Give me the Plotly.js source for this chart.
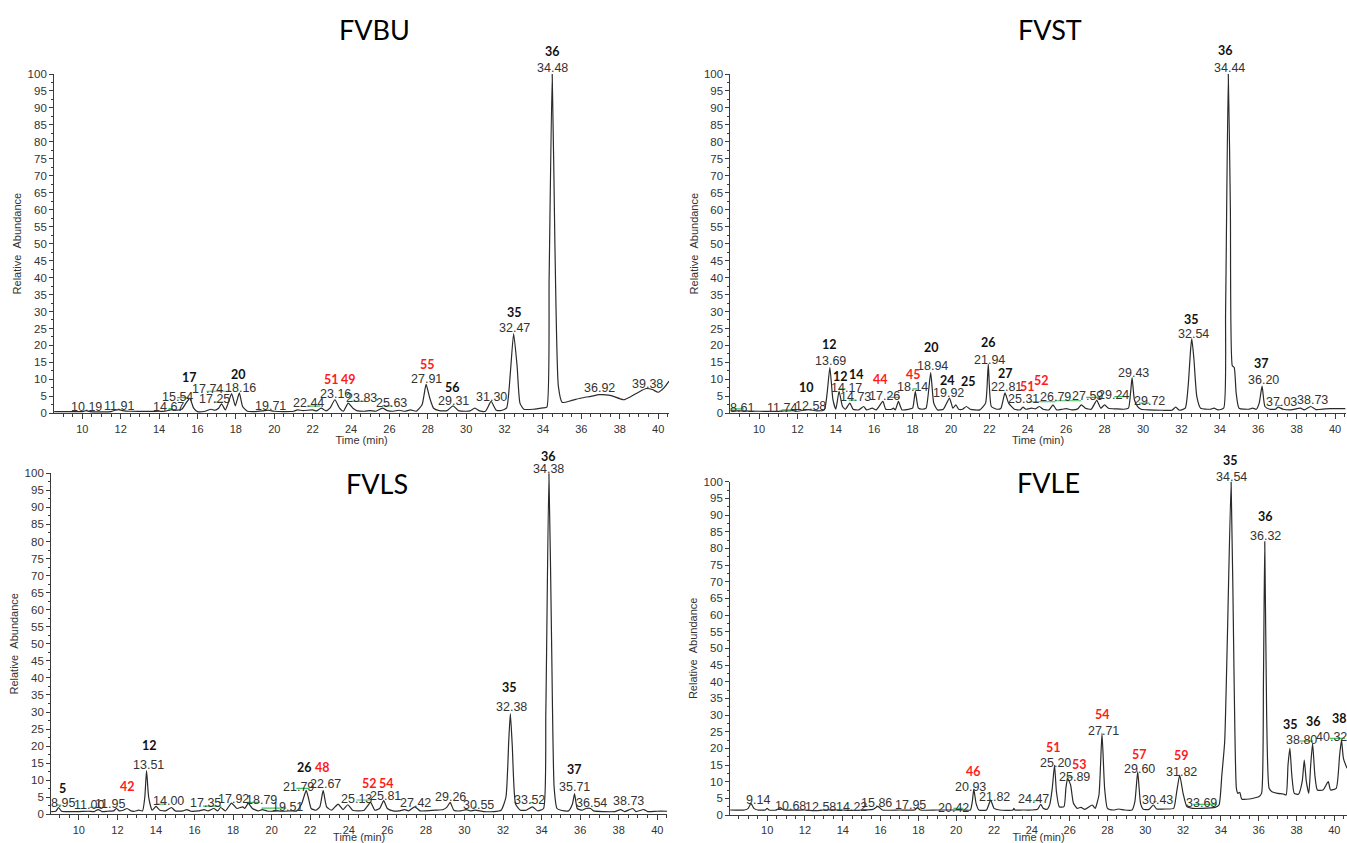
<!DOCTYPE html>
<html>
<head>
<meta charset="utf-8">
<script src="https://cdn.plot.ly/plotly-3.0.1.min.js"></script>
<style>html,body{margin:0;padding:0;background:#fff}#chart{width:1347px;height:843px}</style>
</head>
<body>
<div id="chart"></div>
<script>
// ===================== DATA =====================
// FVBU chromatogram (time in min, relative abundance in %)
const fvbuTime = [8.53,9.5,10.0,10.19,10.4,11.5,11.7,11.91,12.1,12.5,
  14.0,14.3,14.67,14.9,15.2,15.4,15.6,15.8,16.0,16.4,
  16.7,16.9,17.1,17.25,17.45,17.6,17.78,17.97,18.18,18.35,
  18.6,19.0,19.4,19.71,20.0,20.5,21.0,21.2,21.5,22.0,
  22.2,22.44,22.7,22.9,23.16,23.4,23.6,23.85,24.1,24.3,
  24.7,25.0,25.3,25.63,25.9,26.2,26.5,26.8,27.1,27.4,
  27.7,27.91,28.1,28.3,28.6,29.0,29.31,29.6,30.0,30.2,
  30.45,30.7,31.0,31.3,31.55,31.8,32.1,32.3,32.47,32.65,
  32.8,33.0,33.5,34.0,34.2,34.32,34.48,34.62,34.8,35.0,
  35.5,36.0,36.5,36.92,37.5,38.2,38.6,39.0,39.38,39.7,
  40.0,40.3,40.57];
const fvbuAbundance = [0.5,0.5,0.5,0.8,0.5,0.5,0.9,1.1,0.8,0.6,
  0.6,0.6,1.1,0.9,1.3,3.0,4.4,1.5,0.5,0.6,
  1.2,0.9,1.5,2.8,1.0,3.0,5.8,2.2,6.0,2.0,
  0.6,0.5,0.7,0.9,0.6,0.5,0.6,1.0,0.8,1.0,
  0.7,1.5,0.7,1.5,4.0,1.5,0.6,3.0,1.5,0.8,
  0.6,0.8,0.6,1.5,0.8,0.6,0.9,0.6,1.0,0.6,
  2.5,8.5,4.5,1.5,0.8,0.8,2.2,0.8,0.6,0.7,
  1.5,0.7,0.6,3.5,1.0,0.8,1.5,12.0,23.5,14.0,
  3.0,1.2,1.2,1.6,1.8,40,100,50,8,3.2,
  3.8,4.5,5.0,5.5,5.3,4.0,5.0,6.3,7.3,7.0,
  6.2,7.5,9.5];
const fvbuRtLabels = ['10.19','11.91','14.67','15.54','17.74','17.25','18.16','19.71','22.44','23.16','23.83','25.63','27.91','29.31','31.30','32.47','34.48','36.92','39.38'];
const fvbuCompounds = ['17','20','51','49','55','56','35','36'];
const fvbuCompoundIsNew = [false,false,true,true,true,false,false,false];

// FVST chromatogram
const fvstTime = [8.51,9.0,10.0,11.0,11.74,12.0,12.58,13.0,13.4,13.55,
  13.69,13.85,14.0,14.17,14.35,14.5,14.73,14.9,15.2,15.45,
  15.6,15.9,16.1,16.45,16.6,16.9,17.0,17.1,17.26,17.45,
  17.8,18.0,18.14,18.3,18.5,18.7,18.94,19.1,19.3,19.6,
  19.92,20.1,20.25,20.4,20.6,20.8,21.0,21.5,21.8,21.94,
  22.1,22.4,22.6,22.81,23.0,23.3,23.6,23.75,23.9,24.2,
  24.4,24.6,24.8,25.1,25.31,25.5,25.8,26.0,26.3,26.6,
  26.79,27.0,27.3,27.59,27.8,28.0,28.2,28.6,29.0,29.24,
  29.35,29.43,29.55,29.72,29.9,30.3,31.0,31.5,31.7,31.9,
  32.2,32.35,32.48,32.54,32.65,32.8,33.0,33.5,33.7,33.9,
  34.2,34.3,34.44,34.55,34.65,34.75,34.85,35.0,35.5,35.7,
  35.9,36.05,36.2,36.35,36.6,36.9,37.03,37.3,37.7,38.2,
  38.4,38.73,39.0,39.5,40.0,40.55];
const fvstAbundance = [0.7,0.7,0.6,0.6,0.8,0.6,1.1,0.7,1.0,6.0,
  13.5,4.0,1.2,6.5,2.0,1.2,3.0,1.2,1.0,2.0,
  1.0,1.5,1.0,3.5,1.2,1.2,1.5,1.0,3.5,1.0,
  1.2,1.5,6.5,1.5,1.2,1.5,12.0,3.0,1.0,1.2,
  4.5,1.5,2.5,1.2,1.2,2.0,1.2,1.0,3.0,14.5,
  2.0,1.2,1.5,6.0,3.0,1.2,1.0,1.8,1.2,1.5,
  1.3,2.0,1.2,1.0,2.5,1.0,1.2,1.4,1.0,1.3,
  2.5,1.5,1.2,3.8,1.5,2.5,1.5,1.3,1.2,1.5,
  6.0,10.5,4.0,2.0,1.2,1.0,0.9,0.9,1.8,0.9,
  1.5,8.0,19.0,22.0,16.0,5.0,1.5,1.2,1.5,1.0,
  1.5,30,100,60,14,13.5,6.0,1.5,1.2,1.5,
  1.2,3.0,8.0,2.0,1.2,1.2,1.8,1.2,1.0,1.5,
  1.0,2.0,1.1,1.3,1.4,1.4];
const fvstRtLabels = ['8.61','11.74','12.58','13.69','14.17','14.73','17.26','18.14','18.94','19.92','21.94','22.81','25.31','26.79','27.59','29.24','29.43','29.72','32.54','34.44','36.20','37.03','38.73'];
const fvstCompounds = ['10','12','12','14','44','45','20','24','25','26','27','51','52','35','36','37'];
const fvstCompoundIsNew = [false,false,false,false,true,true,false,false,false,false,false,true,true,false,false,false];

// FVLS chromatogram
const fvlsTime = [8.56,8.8,8.95,9.1,9.5,10.0,10.5,10.8,11.0,11.2,
  11.5,11.8,11.95,12.1,12.3,12.5,12.7,12.9,13.1,13.3,
  13.42,13.51,13.62,13.8,14.0,14.2,14.5,14.8,15.0,15.4,
  15.6,15.8,16.2,16.5,16.7,17.0,17.2,17.35,17.6,17.92,
  18.2,18.5,18.6,18.79,19.0,19.3,19.51,19.8,20.3,20.6,
  21.0,21.3,21.55,21.79,21.9,22.05,22.3,22.5,22.67,22.85,
  23.1,23.45,23.7,23.95,24.2,24.5,24.8,25.13,25.35,25.6,
  25.81,26.0,26.3,26.6,26.9,27.1,27.42,27.7,28.0,28.5,
  28.9,29.1,29.26,29.45,29.8,30.1,30.3,30.55,31.0,31.5,
  31.9,32.15,32.3,32.38,32.48,32.65,32.9,33.2,33.52,33.8,
  34.1,34.22,34.38,34.52,34.65,34.8,35.0,35.4,35.6,35.71,
  35.85,36.1,36.3,36.54,36.7,37.2,37.8,38.1,38.3,38.73,
  38.9,39.3,39.5,40.0,40.52];
const fvlsAbundance = [0.8,0.9,2.0,0.9,0.8,0.8,0.9,0.8,1.4,0.8,
  0.9,1.0,1.7,1.0,1.2,1.7,1.0,0.9,1.2,1.0,
  5.0,12.8,5.0,1.2,2.3,1.2,1.0,2.0,1.0,1.0,
  1.4,0.9,1.0,1.4,1.0,1.7,1.0,2.0,1.0,3.3,
  1.7,2.2,1.7,3.2,1.7,1.0,1.4,0.9,1.0,0.9,
  1.0,1.0,3.0,7.0,5.0,1.7,1.2,2.2,7.0,2.2,
  1.2,3.0,1.4,2.8,1.2,1.0,1.2,3.5,1.2,1.7,
  4.0,1.7,1.0,1.0,1.4,1.0,2.2,1.0,1.0,1.2,
  1.4,2.2,3.5,1.2,1.0,1.4,1.0,1.2,0.8,0.8,
  1.2,5.0,22.0,29.5,20.0,3.0,1.2,1.2,2.2,1.0,
  1.7,30,100,50,8.0,1.7,1.2,1.0,3.0,6.0,
  1.7,1.2,1.7,1.7,1.0,0.8,0.8,1.4,0.8,1.7,
  0.8,1.4,0.8,0.9,0.9];
const fvlsRtLabels = ['8.95','11.00','11.95','13.51','14.00','17.35','17.92','18.79','19.51','21.79','22.67','25.13','25.81','27.42','29.26','30.55','32.38','33.52','34.38','35.71','36.54','38.73'];
const fvlsCompounds = ['5','42','12','26','48','52','54','35','36','37'];
const fvlsCompoundIsNew = [false,true,false,false,true,true,true,false,false,false];

// FVLE chromatogram
const fvleTime = [8.04,8.8,9.0,9.14,9.3,9.5,9.9,10.0,10.1,10.5,
  10.68,10.9,12.0,12.58,13.0,14.0,14.22,15.0,15.6,15.86,
  16.1,17.0,17.8,17.95,18.1,19.0,20.0,20.42,20.75,20.85,
  20.93,21.05,21.2,21.6,21.82,22.0,22.3,23.0,23.05,23.1,
  23.5,24.0,24.3,24.47,24.6,24.8,24.95,25.08,25.2,25.3,
  25.45,25.7,25.8,25.89,26.05,26.2,26.4,26.6,26.8,27.2,
  27.35,27.55,27.71,27.85,28.0,28.3,28.6,28.9,29.3,29.45,
  29.6,29.75,29.9,30.2,30.43,30.6,31.0,31.5,31.65,31.82,
  32.0,32.2,32.5,33.0,33.69,33.9,34.05,34.2,34.35,34.54,
  34.7,34.82,34.9,35.0,35.1,35.5,36.0,36.15,36.25,36.32,
  36.42,36.55,36.7,37.0,37.3,37.45,37.55,37.65,37.75,37.88,
  38.1,38.3,38.41,38.52,38.65,38.75,38.85,38.97,39.1,39.4,
  39.68,39.8,40.1,40.28,40.38,40.48,40.67];
const fvleAbundance = [1.5,1.5,2.0,3.5,2.0,1.5,1.5,2.0,1.5,1.5,
  2.2,1.5,1.5,1.3,1.5,1.5,1.4,1.5,1.7,2.6,
  1.5,1.5,1.5,2.2,1.5,1.5,1.5,1.5,1.5,4.0,
  7.8,3.5,1.5,1.5,4.5,2.0,1.5,1.5,2.0,1.5,
  1.5,1.5,1.7,3.2,2.0,1.7,3.2,8.0,15.0,7.0,
  2.5,2.5,8.0,11.0,9.0,3.5,2.0,2.3,1.7,3.0,
  2.0,6.0,24.5,8.0,2.0,1.5,1.8,1.5,1.5,4.0,
  13.0,3.5,1.7,1.7,3.0,1.8,1.8,2.0,6.5,12.0,
  6.5,2.5,2.0,2.0,2.3,3.0,12.0,22.0,55,100,
  40,8.0,6.5,6.8,4.8,4.8,5.5,6.5,40,82,
  30,8.0,7.0,6.5,6.3,6.0,15,20,12,6.5,
  6.2,10,16.5,10,6.5,15,21.5,12,7.5,7.5,
  10,7.5,8.0,18,22.5,17,14];
const fvleRtLabels = ['9.14','10.68','12.58','14.22','15.86','17.95','20.42','20.93','21.82','24.47','25.20','25.89','27.71','29.60','30.43','31.82','33.69','34.54','36.32','38.80','40.32'];
const fvleCompounds = ['46','51','53','54','57','59','35','36','35','36','38'];
const fvleCompoundIsNew = [true,true,true,true,true,true,false,false,false,false,false];

// Integration baseline marks (start time, end time, level)
const fvbuBaselines = [[14.49,14.70,1.4],[14.94,15.55,4.6],[16.47,17.75,6.5],[16.85,17.34,3.3],[21.71,22.40,2.1],[23.96,24.74,3.5],[25.61,26.13,2.2]];
const fvstBaselines = [[8.51,9.22,1.3],[11.18,11.71,1.0],[14.16,14.51,7.2],[14.67,15.0,3.9],[16.67,17.33,4.7],[18.0,18.22,7.2],[24.07,25.44,3.4],[25.44,26.78,3.7],[27.04,27.78,4.7],[28.51,29.33,4.9],[29.78,30.33,3.0],[37.0,37.22,2.3]];
const fvlsBaselines = [[8.83,9.09,2.7],[10.56,11.07,2.05],[14.02,14.54,3.0],[16.43,17.39,2.4],[18.69,19.38,3.5],[19.47,20.76,1.8],[21.28,21.97,7.6],[24.40,25.09,4.2],[30.45,30.62,2.05],[33.40,33.56,3.4]];
const fvleBaselines = [[19.85,20.38,2.0],[24.08,24.52,4.3],[25.84,26.19,11.3],[30.42,30.60,4.0],[32.54,33.78,3.2],[38.18,38.88,22.2],[39.77,40.56,23.0]];

// ===================== LABEL PLACEMENT (layout) =====================
// [time, abundance] of each label's centre, as placed in the original
const fvbuRtPos = [[10.23,1.77],[11.92,2.16],[14.51,1.96],[14.96,4.72],[16.54,7.07],[16.88,4.13],[18.23,7.56],[19.81,2.16],[21.78,2.95],[23.20,5.60],[24.55,4.42],[26.13,2.95],[27.93,10.02],[29.33,3.73],[31.32,4.91],[32.51,25.05],[34.48,101.67],[36.96,7.37],[39.44,8.64]];
const fvbuIdPos = [[15.59,10.61],[18.12,11.30],[22.97,9.82],[23.87,9.82],[28.0,14.24],[29.29,7.56],[32.51,29.76],[34.48,106.58]];
const fvstRtPos = [[9.11,1.6],[11.22,1.6],[12.67,2.3],[13.73,15.4],[14.56,7.5],[15.0,4.7],[16.56,5.2],[18.0,7.7],[19.04,13.8],[19.89,5.9],[22.0,15.7],[22.89,7.7],[23.78,4.2],[25.44,4.7],[27.11,5.2],[28.44,5.4],[29.49,11.8],[30.33,3.7],[32.62,23.4],[34.51,101.7],[36.29,9.8],[37.22,3.2],[38.84,3.9]];
const fvstIdPos = [[12.49,7.5],[13.67,20.3],[14.22,10.8],[15.07,11.3],[16.33,10.1],[18.07,11.4],[18.96,19.5],[19.84,9.8],[20.89,9.4],[21.93,21.0],[22.82,11.8],[24.0,7.9],[24.73,9.8],[32.51,27.6],[34.29,106.8],[36.18,14.6]];
const fvlsRtPos = [[9.17,3.2],[10.52,2.7],[11.64,3.0],[13.62,14.5],[14.63,4.0],[16.58,3.2],[18.04,4.5],[19.46,4.2],[20.81,2.2],[21.37,8.1],[22.81,8.9],[24.38,4.5],[25.91,5.4],[27.44,3.4],[29.28,5.2],[30.74,2.7],[32.43,31.4],[33.37,4.2],[34.38,101.3],[35.73,8.1],[36.58,3.2],[38.49,4.0]];
const fvlsIdPos = [[9.17,7.6],[12.54,8.1],[13.66,20.1],[21.69,13.8],[22.65,13.8],[25.08,8.9],[25.96,8.9],[32.36,37.1],[34.38,104.9],[35.69,13.2]];
const fvleRtPos = [[9.53,4.5],[11.21,2.8],[12.80,2.3],[14.47,2.3],[15.80,3.5],[17.56,3.0],[19.85,2.2],[20.73,8.3],[22.05,5.3],[24.11,4.7],[25.23,15.7],[26.28,11.3],[27.79,25.3],[29.72,13.8],[30.64,4.5],[31.92,12.8],[32.98,3.7],[34.54,101.5],[36.34,83.8],[38.27,22.5],[39.85,23.5]];
const fvleIdPos = [[20.94,13.0],[25.14,20.2],[26.51,15.3],[27.75,30.2],[29.68,18.2],[31.92,18.0],[34.52,106.3],[36.34,89.7],[37.69,27.2],[38.89,28.2],[40.27,29.0]];

const W = 1347, H = 843;
const panels = [
  {name:'FVBU', time:fvbuTime, abund:fvbuAbundance, rt:fvbuRtLabels, rtPos:fvbuRtPos, ids:fvbuCompounds, idPos:fvbuIdPos, idNew:fvbuCompoundIsNew, base:fvbuBaselines,
   xRange:[8.53,40.57], xPx:[54.1,669.1], yPx:[413.3,74.0], titlePx:[374.6,29.3]},
  {name:'FVST', time:fvstTime, abund:fvstAbundance, rt:fvstRtLabels, rtPos:fvstRtPos, ids:fvstCompounds, idPos:fvstIdPos, idNew:fvstCompoundIsNew, base:fvstBaselines,
   xRange:[8.51,40.55], xPx:[730.4,1345.6], yPx:[413.3,74.0], titlePx:[1050.4,29.3]},
  {name:'FVLS', time:fvlsTime, abund:fvlsAbundance, rt:fvlsRtLabels, rtPos:fvlsRtPos, ids:fvlsCompounds, idPos:fvlsIdPos, idNew:fvlsCompoundIsNew, base:fvlsBaselines,
   xRange:[8.56,40.52], xPx:[51.1,667.3], yPx:[814.3,473.3], titlePx:[377.0,483.3]},
  {name:'FVLE', time:fvleTime, abund:fvleAbundance, rt:fvleRtLabels, rtPos:fvleRtPos, ids:fvleCompounds, idPos:fvleIdPos, idNew:fvleCompoundIsNew, base:fvleBaselines,
   xRange:[8.04,40.67], xPx:[730.1,1347], yPx:[815.0,481.7], titlePx:[1048.6,482.7]}
];

const AXIS_COLOR = '#3a3a3a';
const TEXT_FONT = '"Liberation Sans", Arial, sans-serif';
const ID_FONT = 'Lato, "Open Sans", sans-serif';

const traces = [];
const layout = {
  width: W, height: H,
  margin: {l:0, r:0, t:0, b:0},
  paper_bgcolor: '#ffffff', plot_bgcolor: '#ffffff',
  showlegend: false,
  font: {family: TEXT_FONT, size: 11, color: '#333'},
  annotations: []
};

panels.forEach((p, i) => {
  const s = i === 0 ? '' : String(i + 1);
  const xName = 'x' + s, yName = 'y' + s;
  const ppu = (p.yPx[0] - p.yPx[1]) / 100;

  traces.push({
    type: 'scatter', mode: 'lines', x: p.time, y: p.abund,
    xaxis: xName, yaxis: yName,
    line: {color: '#2a2a2a', width: 1.2, shape: 'spline', smoothing: 0.5}, hoverinfo: 'x+y', name: p.name
  });

  const bx = [], by = [];
  p.base.forEach(b => { bx.push(b[0], b[1], null); by.push(b[2], b[2], null); });
  traces.push({
    type: 'scatter', mode: 'lines', x: bx, y: by, xaxis: xName, yaxis: yName,
    line: {color: '#3fbf5a', width: 1.2}, hoverinfo: 'skip', connectgaps: false, name: p.name + ' baselines'
  });

  layout['xaxis' + s] = {
    domain: [p.xPx[0] / W, p.xPx[1] / W], range: p.xRange, anchor: yName,
    tick0: 0, dtick: 2, ticks: 'outside', ticklen: 5, tickwidth: 1, tickcolor: AXIS_COLOR,
    minor: {dtick: 0.5, ticks: 'outside', ticklen: 3, tickcolor: AXIS_COLOR, showgrid: false},
    showline: true, linecolor: AXIS_COLOR, linewidth: 1, showgrid: false, zeroline: false,
    tickfont: {family: TEXT_FONT, size: 11, color: '#333'},
    title: {text: 'Time (min)', font: {family: TEXT_FONT, size: 11, color: '#333'}, standoff: 1},
    fixedrange: true
  };
  layout['yaxis' + s] = {
    domain: [(H - p.yPx[0]) / H, (H - p.yPx[1]) / H], range: [0, 100], anchor: xName,
    tick0: 0, dtick: 5, ticks: 'outside', ticklen: 4, tickwidth: 1, tickcolor: AXIS_COLOR,
    minor: {dtick: 2.5, ticks: 'outside', ticklen: 2, tickcolor: AXIS_COLOR, showgrid: false},
    showline: true, linecolor: AXIS_COLOR, linewidth: 1, showgrid: false, zeroline: false,
    tickfont: {family: TEXT_FONT, size: 11.5, color: '#333'},
    title: {text: 'Relative\u00a0\u00a0Abundance', font: {family: TEXT_FONT, size: 11, color: '#333'}, standoff: 3},
    fixedrange: true
  };

  // labels above the 100 % line are anchored at 100 and shifted up in pixels
  const place = (v) => v > 100 ? {y: 100, yshift: (v - 100) * ppu} : {y: v, yshift: 0};

  p.rt.forEach((txt, k) => {
    const pos = p.rtPos[k], pl = place(pos[1]);
    layout.annotations.push({
      xref: xName, yref: yName, x: pos[0], y: pl.y, yshift: pl.yshift,
      text: txt, showarrow: false, xanchor: 'center', yanchor: 'middle',
      font: {family: TEXT_FONT, size: 12.5, color: '#333'}
    });
  });
  p.ids.forEach((txt, k) => {
    const pos = p.idPos[k], pl = place(pos[1]);
    layout.annotations.push({
      xref: xName, yref: yName, x: pos[0], y: pl.y, yshift: pl.yshift,
      text: '<b>' + txt + '</b>', showarrow: false, xanchor: 'center', yanchor: 'middle',
      font: {family: ID_FONT, size: 12.5, color: p.idNew[k] ? '#ff1a1a' : '#111'}
    });
  });
  layout.annotations.push({
    xref: 'paper', yref: 'paper', x: p.titlePx[0] / W, y: (H - p.titlePx[1]) / H,
    text: p.name, showarrow: false, xanchor: 'center', yanchor: 'middle',
    font: {family: 'Lato, "Open Sans", sans-serif', size: 27, color: '#000'}
  });
});

Plotly.newPlot('chart', traces, layout, {staticPlot: true, displayModeBar: false});
</script>
</body>
</html>
